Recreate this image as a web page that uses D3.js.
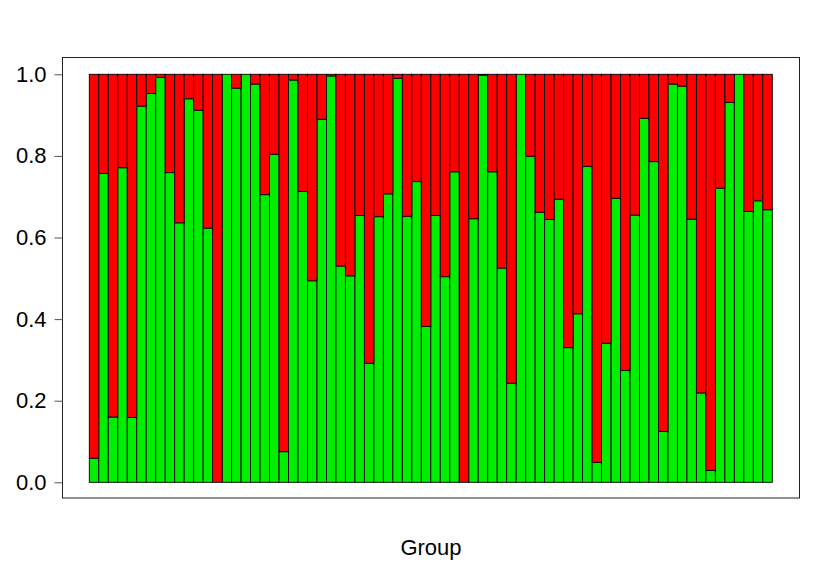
<!DOCTYPE html>
<html>
<head>
<meta charset="utf-8">
<script src="https://cdn.jsdelivr.net/npm/d3@7"></script>
<style>
  body { margin: 0; background: #fff; }
  svg { display: block; }
  text { font-family: "Liberation Sans", Arial, sans-serif; }
</style>
</head>
<body>
<svg id="chart" width="830" height="575"></svg>
<script>
// Proportion of the first (green) class in each group; red is the remainder
const groups = d3.range(1, 73).map(String);
const greenShare = [
  0.059, 0.757, 0.160, 0.771, 0.159, 0.922, 0.953, 0.992, 0.759, 0.636,
  0.940, 0.912, 0.623, 0.000, 1.000, 0.966, 1.000, 0.976, 0.705, 0.804,
  0.075, 0.986, 0.713, 0.494, 0.890, 0.996, 0.530, 0.506, 0.654, 0.292,
  0.651, 0.707, 0.990, 0.652, 0.737, 0.382, 0.654, 0.504, 0.761, 0.000,
  0.646, 0.998, 0.761, 0.525, 0.243, 1.000, 0.799, 0.662, 0.644, 0.694,
  0.330, 0.413, 0.774, 0.049, 0.341, 0.696, 0.274, 0.655, 0.892, 0.786,
  0.125, 0.976, 0.971, 0.645, 0.219, 0.029, 0.721, 0.931, 1.000, 0.664,
  0.690, 0.668
];
const redShare = greenShare.map(v => 1 - v);
const seriesKeys = ["green", "red"];
const seriesColors = ["#00ee00", "#ff0000"];
const yTicks = [0, 0.2, 0.4, 0.6, 0.8, 1.0];
const xTitle = "Group";

const rows = groups.map((g, i) => ({ group: g, green: greenShare[i], red: redShare[i] }));
const stacked = d3.stack().keys(seriesKeys)(rows);

const svg = d3.select("#chart");
const x = d3.scaleBand().domain(groups).range([89.3, 772.3]).padding(0);
const y = d3.scaleLinear().domain([0, 1]).range([482.3, 74.3]);
const color = d3.scaleOrdinal().domain(seriesKeys).range(seriesColors);

svg.append("g")
  .selectAll("g")
  .data(stacked)
  .join("g")
  .attr("fill", d => color(d.key))
  .selectAll("rect")
  .data(d => d)
  .join("rect")
  .attr("x", d => x(d.data.group))
  .attr("width", x.bandwidth())
  .attr("y", d => y(d[1]))
  .attr("height", d => y(d[0]) - y(d[1]))
  .attr("stroke", "#000")
  .attr("stroke-width", 0.9);

// frame
svg.append("rect")
  .attr("x", 62.5).attr("y", 57.5)
  .attr("width", 737).attr("height", 440.5)
  .attr("fill", "none").attr("stroke", "#222").attr("stroke-width", 1);

// y axis
const yAxis = d3.axisLeft(y).tickValues(yTicks).tickFormat(d3.format(".1f")).tickSize(8).tickPadding(8);
const ga = svg.append("g").attr("transform", "translate(62.5,0)").call(yAxis);
ga.select(".domain").remove();
ga.selectAll(".tick line").attr("stroke", "#555");
ga.selectAll(".tick text")
  .attr("font-size", 22)
  .attr("fill", "#000")
  .attr("font-family", "Liberation Sans, Arial, sans-serif");

svg.append("text")
  .attr("x", (62.5 + 799.5) / 2)
  .attr("y", 555)
  .attr("text-anchor", "middle")
  .attr("font-size", 22)
  .attr("fill", "#000")
  .text(xTitle);
</script>
</body>
</html>
